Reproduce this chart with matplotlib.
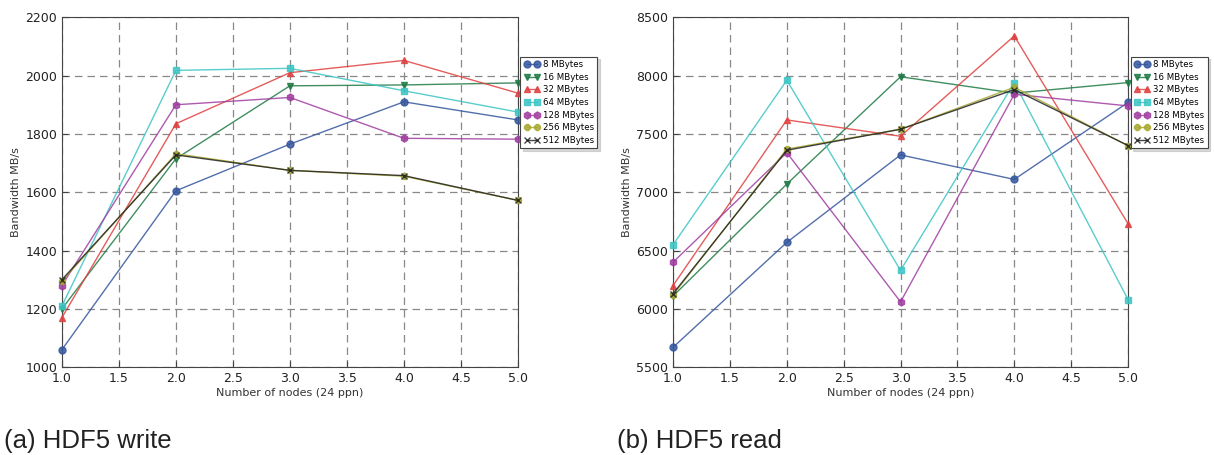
import matplotlib
matplotlib.use("Agg")
import matplotlib.pyplot as plt

# =========================================================
# Dados
# =========================================================
nodes = [1.0, 2.0, 3.0, 4.0, 5.0]
labels = ["8 MBytes", "16 MBytes", "32 MBytes", "64 MBytes",
          "128 MBytes", "256 MBytes", "512 MBytes"]

write_8 = [1060, 1605, 1765, 1910, 1848]
write_16 = [1200, 1715, 1965, 1968, 1975]
write_32 = [1170, 1835, 2010, 2052, 1940]
write_64 = [1210, 2018, 2025, 1948, 1875]
write_128 = [1280, 1900, 1925, 1785, 1782]
write_256 = [1295, 1732, 1675, 1655, 1572]
write_512 = [1300, 1728, 1675, 1657, 1572]

read_8 = [5670, 6570, 7320, 7110, 7770]
read_16 = [6110, 7070, 7990, 7850, 7940]
read_32 = [6200, 7620, 7480, 8340, 6730]
read_64 = [6550, 7960, 6330, 7940, 6080]
read_128 = [6400, 7340, 6060, 7840, 7740]
read_256 = [6120, 7370, 7540, 7900, 7400]
read_512 = [6130, 7360, 7540, 7880, 7400]

write_series = [write_8, write_16, write_32, write_64, write_128, write_256, write_512]
read_series = [read_8, read_16, read_32, read_64, read_128, read_256, read_512]

colors = ["#34569e", "#1f7a45", "#e0403f", "#3cc4c4", "#a03da0", "#a8a830", "#222222"]
markers = ["o", "v", "^", "s", "h", "8", "x"]


def draw_panel(ax, series, ylim, yticks):
    for vals, c, m, lab in zip(series, colors, markers, labels):
        ax.plot(nodes, vals, color=c, lw=1.0, alpha=0.85, marker=m,
                markersize=5, markerfacecolor=c, markeredgecolor=c,
                label=lab, clip_on=False, zorder=3)
    ax.set_xlim(1.0, 5.0)
    ax.set_ylim(*ylim)
    ax.set_yticks(yticks)
    ax.set_xticks([1.0, 1.5, 2.0, 2.5, 3.0, 3.5, 4.0, 4.5, 5.0])
    ax.tick_params(labelsize=9, length=4, direction="in", color="#444444",
                   labelcolor="#222222")
    ax.grid(True, ls=(0, (6, 4)), color="#888888", lw=0.9)
    for s in ax.spines.values():
        s.set_color("#444444")
    ax.set_xlabel("Number of nodes (24 ppn)", fontsize=8, color="#333333", labelpad=2)
    ax.set_ylabel("Bandwidth MB/s", fontsize=8, color="#333333", labelpad=3)
    leg = ax.legend(loc="upper left", bbox_to_anchor=(1.0, 0.895), fontsize=6.2,
                    numpoints=2, handlelength=1.8, borderpad=0.4, labelspacing=0.42,
                    handletextpad=0.4, fancybox=False, framealpha=1.0,
                    shadow={"color": "#bbbbbb", "alpha": 0.6},
                    edgecolor="#444444", borderaxespad=0.3)
    leg.get_frame().set_linewidth(0.8)


fig = plt.figure(figsize=(12.14, 4.55), dpi=100)
ax1 = fig.add_axes([0.051, 0.193, 0.3756, 0.769])
ax2 = fig.add_axes([0.5544, 0.193, 0.3748, 0.769])

draw_panel(ax1, write_series, (1000, 2200), [1000, 1200, 1400, 1600, 1800, 2000, 2200])
draw_panel(ax2, read_series, (5500, 8500), [5500, 6000, 6500, 7000, 7500, 8000, 8500])

fig.text(0.003, 0.016, "(a) HDF5 write", fontsize=18.5, family="Liberation Sans", color="#222222")
fig.text(0.508, 0.016, "(b) HDF5 read", fontsize=18.5, family="Liberation Sans", color="#222222")

fig.savefig("out.png", dpi=100)
